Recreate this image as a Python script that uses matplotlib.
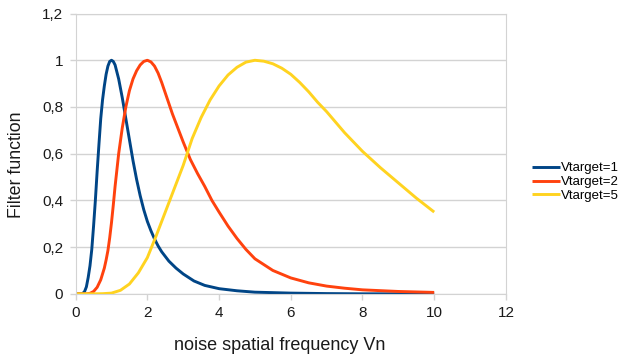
import matplotlib
matplotlib.use('Agg')
import matplotlib.pyplot as plt
from matplotlib.ticker import FuncFormatter

plt.rcParams['font.family'] = ['Liberation Sans', 'DejaVu Sans']

# values
x_v1 = [0, 0.15, 0.2, 0.25, 0.3, 0.35, 0.4, 0.45, 0.5, 0.55, 0.6, 0.65, 0.7, 0.75,
        0.8, 0.85, 0.9, 0.95, 1.0, 1.05, 1.1, 1.2, 1.3, 1.4, 1.5, 1.6, 1.7, 1.8,
        1.9, 2.0, 2.1, 2.2, 2.3, 2.4, 2.6, 2.8, 3.0, 3.3, 3.6, 4.0, 4.5, 5.0,
        6.0, 7.0, 8.0, 10.0]
y_v1 = [0, 0, 0.002, 0.01, 0.03, 0.07, 0.12, 0.19, 0.29, 0.40, 0.525, 0.64, 0.75, 0.83,
        0.89, 0.94, 0.975, 0.995, 1.0, 0.995, 0.98, 0.92, 0.84, 0.75, 0.66, 0.57, 0.49, 0.42,
        0.36, 0.31, 0.27, 0.235, 0.205, 0.18, 0.14, 0.11, 0.085, 0.055, 0.036, 0.022, 0.013, 0.007,
        0.003, 0.001, 0.0, 0.0]

x_v2 = [0, 0.3, 0.4, 0.5, 0.6, 0.7, 0.8, 0.85, 0.9, 0.95, 1.0, 1.05, 1.1, 1.2, 1.3, 1.4,
        1.5, 1.6, 1.7, 1.8, 1.9, 2.0, 2.1, 2.2, 2.3, 2.4, 2.5, 2.6, 2.7, 2.8, 2.9,
        3.0, 3.2, 3.4, 3.6, 3.8, 4.0, 4.25, 4.5, 4.75, 5.0, 5.5, 6.0, 6.5, 7.0, 7.5,
        8.0, 9.0, 10.0]
y_v2 = [0, 0, 0.002, 0.01, 0.028, 0.06, 0.11, 0.145, 0.185, 0.24, 0.305, 0.38, 0.46, 0.60, 0.71, 0.80,
        0.87, 0.92, 0.955, 0.98, 0.995, 1.0, 0.993, 0.975, 0.945, 0.905, 0.86, 0.815, 0.77, 0.73, 0.69,
        0.65, 0.575, 0.515, 0.46, 0.40, 0.35, 0.29, 0.237, 0.19, 0.15, 0.10, 0.068, 0.047, 0.033, 0.024,
        0.017, 0.01, 0.006]

x_v5 = [0, 0.5, 0.75, 1.0, 1.25, 1.5, 1.75, 2.0, 2.25, 2.5, 2.75, 3.0, 3.25, 3.5, 3.75,
        4.0, 4.25, 4.5, 4.75, 5.0, 5.25, 5.5, 5.75, 6.0, 6.25, 6.5, 6.75, 7.0, 7.5,
        8.0, 8.5, 9.0, 9.5, 10.0]
y_v5 = [0, 0, 0.0005, 0.003, 0.015, 0.042, 0.09, 0.155, 0.25, 0.35, 0.45, 0.55, 0.665, 0.755, 0.83,
        0.89, 0.937, 0.97, 0.992, 1.0, 0.996, 0.985, 0.966, 0.94, 0.905, 0.865, 0.82, 0.78, 0.69,
        0.61, 0.54, 0.475, 0.41, 0.35]

series = [
    ('Vtarget=1', x_v1, y_v1, '#004586'),
    ('Vtarget=2', x_v2, y_v2, '#ff420e'),
    ('Vtarget=5', x_v5, y_v5, '#ffd320'),
]

fig = plt.figure(figsize=(6.2, 3.57), dpi=100)
ax = fig.add_axes([0.122, 0.177, 0.694, 0.785])

for name, xs, ys, col in series:
    ax.plot(xs, ys, color=col, lw=2.1, label=name, solid_capstyle='butt')

ax.set_xlim(0, 12)
ax.set_ylim(0, 1.2)
ax.set_xticks(range(0, 13, 2))
ax.set_yticks([0, 0.2, 0.4, 0.6, 0.8, 1.0, 1.2])
ax.yaxis.set_major_formatter(FuncFormatter(lambda v, p: ('%g' % round(v, 1)).replace('.', ',')))

grid_col = '#d3d3d3'
ax.grid(axis='y', color=grid_col, lw=1)
ax.set_axisbelow(True)
for s in ax.spines.values():
    s.set_color(grid_col)
ax.tick_params(axis='both', colors=grid_col, length=4, width=1, labelsize=11,
               labelcolor='#1a1a1a', pad=5)

fig.text(17 / 620, 1 - 165 / 357, 'Filter function', rotation=90, fontsize=12.8,
         ha='center', va='center', color='#1a1a1a')
fig.text(280 / 620, 1 - 345 / 357, 'noise spatial frequency Vn', fontsize=13,
         ha='center', va='center', color='#1a1a1a')

fig.legend(loc='center left', bbox_to_anchor=(532 / 620, 1 - 182 / 357), frameon=False,
           fontsize=9.5, handlelength=2.1, handletextpad=0.1, labelspacing=0.12,
           borderaxespad=0, borderpad=0)

fig.savefig('out.png', dpi=100)
